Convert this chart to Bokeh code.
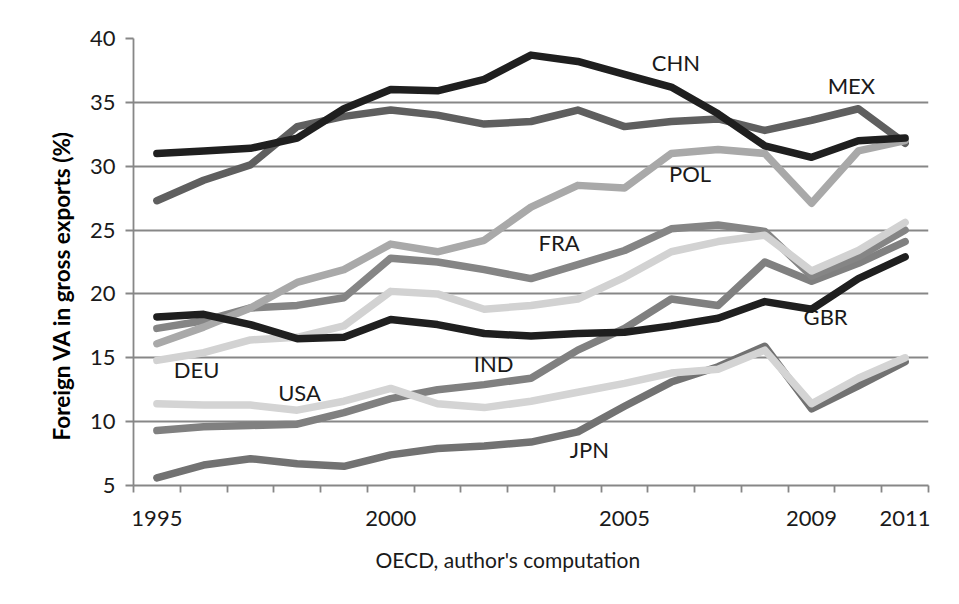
from bokeh.plotting import figure
from bokeh.models import FixedTicker, ColumnDataSource, Title
from bokeh.core.properties import value
from bokeh.embed import file_html
from bokeh.resources import INLINE

years = list(range(1995, 2012))

CHN = [31.0, 31.2, 31.4, 32.2, 34.5, 36.0, 35.9, 36.8, 38.7, 38.2, 37.2, 36.2, 34.1, 31.6, 30.7, 32.0, 32.2]
MEX = [27.3, 28.9, 30.1, 33.1, 33.9, 34.4, 34.0, 33.3, 33.5, 34.4, 33.1, 33.5, 33.7, 32.8, 33.6, 34.5, 31.8]
POL = [16.1, 17.4, 18.9, 20.9, 21.9, 23.9, 23.3, 24.2, 26.8, 28.5, 28.3, 31.0, 31.3, 31.0, 27.1, 31.2, 32.0]
FRA = [17.3, 17.9, 18.9, 19.1, 19.7, 22.8, 22.5, 21.9, 21.2, 22.3, 23.4, 25.1, 25.4, 24.9, 21.4, 22.9, 25.0]
DEU = [14.8, 15.4, 16.4, 16.6, 17.5, 20.2, 20.0, 18.8, 19.1, 19.6, 21.3, 23.3, 24.1, 24.6, 21.8, 23.4, 25.6]
USA = [11.4, 11.3, 11.3, 10.9, 11.6, 12.6, 11.4, 11.1, 11.6, 12.3, 13.0, 13.8, 14.1, 15.6, 11.4, 13.4, 15.0]
IND = [9.3, 9.6, 9.7, 9.8, 10.7, 11.8, 12.5, 12.9, 13.4, 15.6, 17.3, 19.6, 19.1, 22.5, 21.0, 22.4, 24.1]
GBR = [18.2, 18.4, 17.6, 16.5, 16.6, 18.0, 17.6, 16.9, 16.7, 16.9, 17.0, 17.5, 18.1, 19.4, 18.8, 21.2, 22.9]
JPN = [5.6, 6.6, 7.1, 6.7, 6.5, 7.4, 7.9, 8.1, 8.4, 9.2, 11.2, 13.1, 14.3, 15.9, 11.0, 12.8, 14.7]

tick_years = [1995, 2000, 2005, 2009, 2011]
y_ticks = [5, 10, 15, 20, 25, 30, 35, 40]

FONT = "Lato"
GRID = "#878787"

series = [
    ("JPN", JPN, "#727272"),
    ("IND", IND, "#808080"),
    ("FRA", FRA, "#858585"),
    ("MEX", MEX, "#5f5f5f"),
    ("POL", POL, "#a9a9a9"),
    ("DEU", DEU, "#d2d2d2"),
    ("USA", USA, "#d4d4d4"),
    ("GBR", GBR, "#1f1f1f"),
    ("CHN", CHN, "#1f1f1f"),
]

# label anchor positions (year, value)
label_names = ["CHN", "MEX", "POL", "FRA", "DEU", "USA", "IND", "GBR", "JPN"]
label_x = [2006.1, 2009.85, 2006.4, 2003.6, 1995.85, 1998.05, 2002.2, 2009.3, 2004.25]
label_y = [38.1, 36.3, 29.4, 24.05, 14.05, 12.3, 14.55, 18.25, 7.85]

p = figure(width=943, height=588, x_range=(1994.5, 2011.5), y_range=(5, 40),
           output_backend="svg", toolbar_location=None,
           min_border_left=133, min_border_right=15, min_border_top=38, min_border_bottom=102)
p.outline_line_color = None
p.background_fill_color = "white"
p.border_fill_color = "white"

for name, vals, col in series:
    p.line(years, vals, line_color=col, line_width=7.5, line_cap="round", line_join="round")

src = ColumnDataSource(dict(x=label_x, y=label_y, t=label_names))
p.text(x="x", y="y", text="t", source=src, text_font=value(FONT), text_font_size="22px",
       text_align="center", text_baseline="middle", text_color="#1a1a1a")

# x axis
xa = p.xaxis[0]
xa.ticker = FixedTicker(ticks=tick_years, minor_ticks=[y - 0.5 for y in years] + [2011.5])
xa.axis_line_color = GRID
xa.axis_line_width = 1.8
xa.major_tick_line_color = None
xa.major_tick_out = 0
xa.major_tick_in = 0
xa.minor_tick_line_color = GRID
xa.minor_tick_line_width = 1.8
xa.minor_tick_out = 7
xa.minor_tick_in = 0
xa.major_label_text_font = FONT
xa.major_label_text_font_size = "22px"
xa.major_label_text_color = "#1a1a1a"
xa.major_label_standoff = 18

footer = Title(text="OECD, author's computation", align="left", offset=242,
               vertical_align="bottom",
               text_font=FONT, text_font_size="21px", text_font_style="normal",
               text_color="#1a1a1a", standoff=33)
p.add_layout(footer, "below")

# y axis
ya = p.yaxis[0]
ya.ticker = FixedTicker(ticks=y_ticks)
ya.axis_line_color = GRID
ya.axis_line_width = 1.8
ya.major_tick_line_color = GRID
ya.major_tick_line_width = 1.8
ya.major_tick_out = 8
ya.major_tick_in = 0
ya.minor_tick_line_color = None
ya.major_label_text_font = FONT
ya.major_label_text_font_size = "22px"
ya.major_label_text_color = "#1a1a1a"
ya.major_label_standoff = 10

ytitle = Title(text="Foreign VA in gross exports (%)", align="left", offset=45,
               text_font=FONT, text_font_size="22.5px", text_font_style="bold",
               text_color="#000000", standoff=23)
p.add_layout(ytitle, "left")

p.xgrid.grid_line_color = None
p.ygrid.grid_line_color = GRID
p.ygrid.grid_line_width = 1.8

open("out.html", "w").write(file_html(p, INLINE))
